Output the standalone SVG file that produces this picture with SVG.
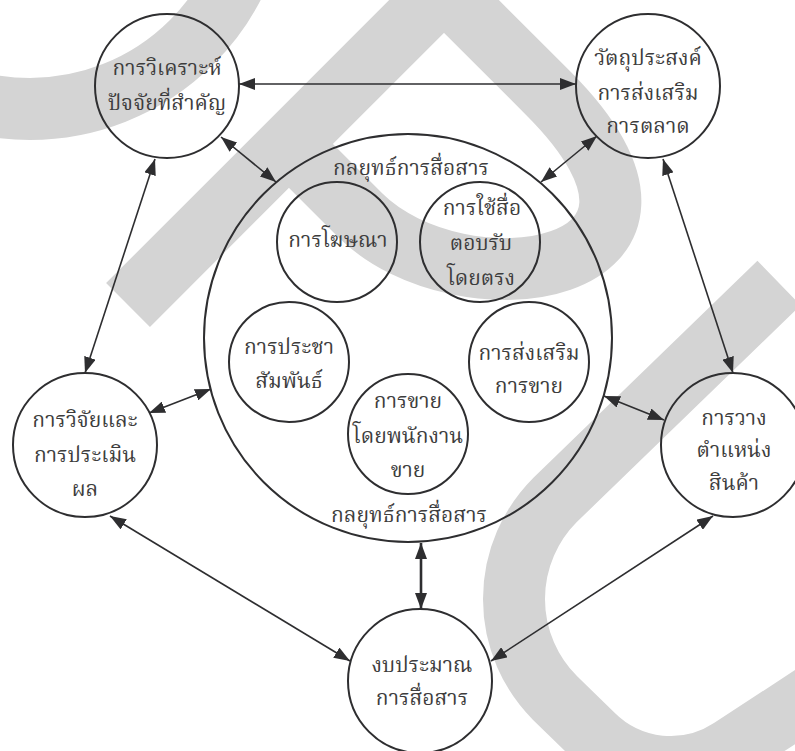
<svg xmlns="http://www.w3.org/2000/svg" width="795" height="751" viewBox="0 0 795 751">
<defs>
<style>
.bg{fill:none;stroke:#d4d4d4;stroke-width:62;stroke-linecap:butt;stroke-linejoin:miter}
.n{fill:none;stroke:#2e2e30;stroke-width:2}
.t{font-family:'Noto Serif Thai','Noto Sans','DejaVu Sans',sans-serif;font-size:21px;fill:#3d3d3d;text-anchor:middle}
.c{fill:none;stroke:#2e2e30;stroke-width:1.6;marker-start:url(#ah);marker-end:url(#ah)}
.ck{stroke-width:2.6}
</style>
<marker id="ah" viewBox="0 0 16 12" refX="16" refY="6" markerWidth="16" markerHeight="12" markerUnits="userSpaceOnUse" orient="auto-start-reverse">
<path d="M0,0 L16,6 L0,12 Z" fill="#2e2e30"/>
</marker>
</defs>
<rect width="795" height="751" fill="#ffffff"/>
<g id="watermark">
<circle class="bg" cx="30" cy="-120" r="229" stroke-width="58"/>
<path class="bg" d="M128,305 L444,-11 L548,93 C732,277 460,315 360,215 L300,155"/>
<path class="bg" d="M779,283 L555,500 A140,140 0 0 0 555,698 L593,735 A110,110 0 0 0 731,749 L870,658"/>
</g>
<g id="connectors">
<line class="c" x1="239" y1="84" x2="576" y2="84"/>
<line class="c" x1="221" y1="137" x2="276" y2="182"/>
<line class="c" x1="597" y1="136" x2="541" y2="182"/>
<line class="c" x1="155" y1="159" x2="85" y2="373"/>
<line class="c" x1="663" y1="159" x2="733" y2="373"/>
<line class="c" x1="149" y1="413" x2="211" y2="389"/>
<line class="c" x1="604" y1="396" x2="664" y2="420"/>
<line class="c ck" x1="421" y1="543" x2="421" y2="609"/>
<line class="c" x1="110" y1="516" x2="350" y2="661"/>
<line class="c" x1="713" y1="516" x2="491" y2="661"/>
</g>
<g id="node-analysis">
<circle class="n" cx="167" cy="86" r="72"/>
<text class="t" x="167" y="75">การวิเคราะห์</text>
<text class="t" x="167" y="110">ปัจจัยที่สำคัญ</text>
</g>
<g id="node-objective">
<circle class="n" cx="648" cy="86" r="72"/>
<text class="t" x="648" y="65">วัตถุประสงค์</text>
<text class="t" x="648" y="100">การส่งเสริม</text>
<text class="t" x="648" y="133">การตลาด</text>
</g>
<g id="node-research">
<circle class="n" cx="85" cy="445" r="72"/>
<text class="t" x="85" y="427">การวิจัยและ</text>
<text class="t" x="85" y="462">การประเมิน</text>
<text class="t" x="85" y="496">ผล</text>
</g>
<g id="node-positioning">
<circle class="n" cx="733" cy="445" r="72"/>
<text class="t" x="734" y="425">การวาง</text>
<text class="t" x="734" y="457">ตำแหน่ง</text>
<text class="t" x="734" y="490">สินค้า</text>
</g>
<g id="node-budget">
<circle class="n" cx="420" cy="681" r="72"/>
<text class="t" x="422" y="672">งบประมาณ</text>
<text class="t" x="422" y="705">การสื่อสาร</text>
</g>
<g id="node-strategy">
<circle class="n" cx="408" cy="338" r="204"/>
<text class="t" x="411" y="175">กลยุทธ์การสื่อสาร</text>
<text class="t" x="409" y="522">กลยุทธ์การสื่อสาร</text>
</g>
<g id="node-advertising">
<circle class="n" cx="337" cy="242" r="60"/>
<text class="t" x="338" y="247">การโฆษณา</text>
</g>
<g id="node-direct">
<circle class="n" cx="480" cy="242" r="60"/>
<text class="t" x="482" y="215">การใช้สื่อ</text>
<text class="t" x="481" y="250">ตอบรับ</text>
<text class="t" x="481" y="285">โดยตรง</text>
</g>
<g id="node-pr">
<circle class="n" cx="289" cy="362" r="60"/>
<text class="t" x="289" y="354">การประชา</text>
<text class="t" x="289" y="388">สัมพันธ์</text>
</g>
<g id="node-salespromo">
<circle class="n" cx="529" cy="362" r="60"/>
<text class="t" x="529" y="360">การส่งเสริม</text>
<text class="t" x="529" y="393">การขาย</text>
</g>
<g id="node-personal">
<circle class="n" cx="408" cy="434" r="60"/>
<text class="t" x="408" y="408">การขาย</text>
<text class="t" x="408" y="443">โดยพนักงาน</text>
<text class="t" x="408" y="477">ขาย</text>
</g>
</svg>
